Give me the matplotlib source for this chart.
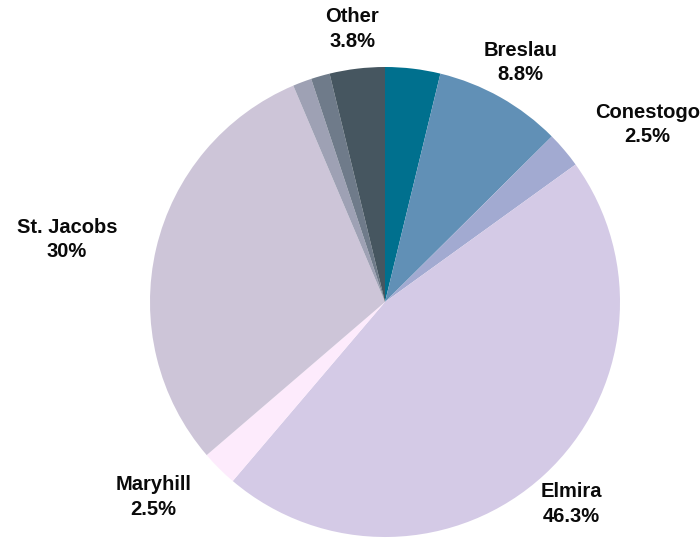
import matplotlib
matplotlib.use("Agg")
import matplotlib.pyplot as plt
import numpy as np

categories = ["Segment A", "Breslau", "Conestogo", "Elmira", "Maryhill", "St. Jacobs", "Segment B", "Segment C", "Other"]
values = [3.8, 8.8, 2.5, 46.3, 2.5, 30.0, 1.3, 1.3, 3.8]
pct_labels = ["", "8.8%", "2.5%", "46.3%", "2.5%", "30%", "", "", "3.8%"]
show_label = [False, True, True, True, True, True, False, False, True]
colors = ["#00708E", "#6190B6", "#A2AAD1", "#D4CAE6", "#FDEBFC", "#CDC5D8", "#9EA1B4", "#6F7B8A", "#465660"]
label_radius = [1.17, 1.17, 1.17, 1.17, 1.17, 1.17, 1.17, 1.17, 1.17]
label_ha = ["center", "center", "left", "center", "right", "right", "center", "center", "center"]

plt.rcParams['font.family'] = ['Liberation Sans', 'DejaVu Sans']

W, H = 700, 542
fig = plt.figure(figsize=(W / 100, H / 100), dpi=100)
cx, cy, r = 385, 302, 235
ax = fig.add_axes([(cx - r) / W, (H - cy - r) / H, 2 * r / W, 2 * r / H])
wedges, _ = ax.pie(values, colors=colors, startangle=90, counterclock=False,
                   radius=1.0, wedgeprops=dict(linewidth=0))
ax.set_xlim(-1, 1)
ax.set_ylim(-1, 1)
ax.set_aspect('equal')
ax.axis('off')

for w, name, pl, show, lr, ha in zip(wedges, categories, pct_labels, show_label, label_radius, label_ha):
    if not show:
        continue
    ang = np.deg2rad((w.theta1 + w.theta2) / 2)
    x = lr * np.cos(ang)
    y = lr * np.sin(ang)
    ax.text(x, y, f"{name}\n{pl}", ha=ha, va='center', fontsize=14.5,
            fontweight='bold', color='#0a0a0a', linespacing=1.35, multialignment='center')

fig.savefig("out.png", dpi=100)
